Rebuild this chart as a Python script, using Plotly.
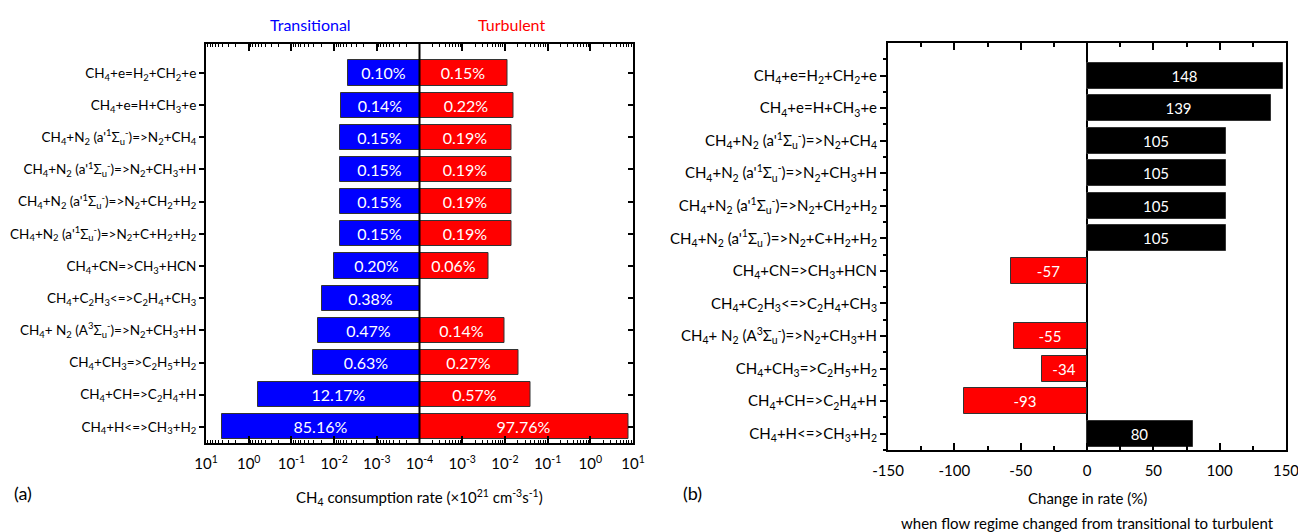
import plotly.graph_objects as go

W, H = 1298, 532
FONT = "Lato"

reactions = [
    "CH<sub>4</sub>+e=H<sub>2</sub>+CH<sub>2</sub>+e",
    "CH<sub>4</sub>+e=H+CH<sub>3</sub>+e",
    "CH<sub>4</sub>+N<sub>2</sub> (a'<sup>1</sup>Σ<sub>u</sub><sup>-</sup>)=&gt;N<sub>2</sub>+CH<sub>4</sub>",
    "CH<sub>4</sub>+N<sub>2</sub> (a'<sup>1</sup>Σ<sub>u</sub><sup>-</sup>)=&gt;N<sub>2</sub>+CH<sub>3</sub>+H",
    "CH<sub>4</sub>+N<sub>2</sub> (a'<sup>1</sup>Σ<sub>u</sub><sup>-</sup>)=&gt;N<sub>2</sub>+CH<sub>2</sub>+H<sub>2</sub>",
    "CH<sub>4</sub>+N<sub>2</sub> (a'<sup>1</sup>Σ<sub>u</sub><sup>-</sup>)=&gt;N<sub>2</sub>+C+H<sub>2</sub>+H<sub>2</sub>",
    "CH<sub>4</sub>+CN=&gt;CH<sub>3</sub>+HCN",
    "CH<sub>4</sub>+C<sub>2</sub>H<sub>3</sub>&lt;=&gt;C<sub>2</sub>H<sub>4</sub>+CH<sub>3</sub>",
    "CH<sub>4</sub>+ N<sub>2</sub> (A<sup>3</sup>Σ<sub>u</sub><sup>-</sup>)=&gt;N<sub>2</sub>+CH<sub>3</sub>+H",
    "CH<sub>4</sub>+CH<sub>3</sub>=&gt;C<sub>2</sub>H<sub>5</sub>+H<sub>2</sub>",
    "CH<sub>4</sub>+CH=&gt;C<sub>2</sub>H<sub>4</sub>+H",
    "CH<sub>4</sub>+H&lt;=&gt;CH<sub>3</sub>+H<sub>2</sub>",
]

# CH4 consumption rate (x10^21 cm^-3 s^-1)
transitional = [0.00472, 0.00689, 0.00728, 0.00728, 0.00728, 0.00728,
                0.0100, 0.0192, 0.0238, 0.0312, 0.605, 4.29]
transitional_pct = ["0.10%", "0.14%", "0.15%", "0.15%", "0.15%", "0.15%",
                    "0.20%", "0.38%", "0.47%", "0.63%", "12.17%", "85.16%"]
turbulent = [0.0112, 0.0163, 0.01466, 0.01466, 0.01466, 0.01466,
             0.00402, None, 0.0100, 0.0203, 0.0408, 7.76]
turbulent_pct = ["0.15%", "0.22%", "0.19%", "0.19%", "0.19%", "0.19%",
                 "0.06%", "", "0.14%", "0.27%", "0.57%", "97.76%"]
change = [148, 139, 105, 105, 105, 105, -57, None, -55, -34, -93, 80]

log_ticks_left = [10, 1, 0.1, 0.01, 0.001, 0.0001]
log_text_left = ["10<sup>1</sup>", "10<sup>0</sup>", "10<sup>-1</sup>", "10<sup>-2</sup>",
                 "10<sup>-3</sup>", "10<sup>-4</sup>"]
log_ticks_right = [0.001, 0.01, 0.1, 1, 10]
log_text_right = ["10<sup>-3</sup>", "10<sup>-2</sup>", "10<sup>-1</sup>", "10<sup>0</sup>",
                  "10<sup>1</sup>"]
lin_ticks = [-150, -100, -50, 0, 50, 100, 150]

BASE = 1e-4
n = len(reactions)
ypos = [n - 1 - i for i in range(n)]
minor_log = [m * 10.0 ** k for k in range(-4, 1) for m in range(2, 10)]
minor_y = [p + 0.5 for p in range(-1, n)]


def px(x):
    return x / W


def py(y):
    return 1 - y / H


fig = go.Figure()

fig.add_trace(go.Bar(
    x=[v - BASE for v in transitional], base=BASE, y=ypos, orientation="h",
    xaxis="x", yaxis="y", width=0.78,
    marker=dict(color="#0000FF", line=dict(color="#333333", width=1)),
    text=transitional_pct, textposition="inside", insidetextanchor="middle",
    textfont=dict(color="white", size=16, family=FONT), constraintext="none",
    showlegend=False, hoverinfo="skip"))

fig.add_trace(go.Bar(
    x=[(v - BASE) if v is not None else None for v in turbulent], base=BASE, y=ypos,
    orientation="h", xaxis="x2", yaxis="y2", width=0.78,
    marker=dict(color="#FF0000", line=dict(color="#333333", width=1)),
    text=turbulent_pct, textposition="inside", insidetextanchor="middle",
    textfont=dict(color="white", size=16, family=FONT), constraintext="none",
    showlegend=False, hoverinfo="skip"))

fig.add_trace(go.Bar(
    x=change, y=ypos, orientation="h", xaxis="x3", yaxis="y3", width=0.8,
    marker=dict(color=["#000000" if (v is not None and v > 0) else "#FF0000" for v in change],
                line=dict(color="#333333", width=1)),
    text=[str(v) if v is not None else "" for v in change],
    textposition="inside", insidetextanchor="middle",
    textfont=dict(color="white", size=15, family=FONT), constraintext="none",
    showlegend=False, hoverinfo="skip"))

common_x = dict(showline=True, linewidth=2, linecolor="black", showgrid=False,
                zeroline=False, ticks="inside", ticklen=7, tickwidth=2, tickcolor="black",
                mirror="allticks", tickfont=dict(size=15, family=FONT, color="black"),
                ticklabelstandoff=6, automargin=False, ticklabeloverflow="allow")

y_left_dom = [py(443), py(44)]
y_right_dom = [py(450), py(43)]

fig.update_layout(
    width=W, height=H, margin=dict(l=0, r=0, t=0, b=0, pad=0, autoexpand=False),
    plot_bgcolor="white", paper_bgcolor="white",
    font=dict(family=FONT, color="black"),
    bargap=0,
    xaxis=dict(domain=[px(206), px(419.5)], type="log", range=[1, -4], anchor="y",
               tickvals=log_ticks_left, ticktext=log_text_left,
               minor=dict(tickvals=minor_log, ticks="inside", ticklen=3, tickwidth=1,
                          tickcolor="black"),
               **common_x),
    xaxis2=dict(domain=[px(419.5), px(633)], type="log", range=[-4, 1], anchor="y2",
                tickvals=log_ticks_right, ticktext=log_text_right,
                minor=dict(tickvals=minor_log, ticks="inside", ticklen=3, tickwidth=1,
                           tickcolor="black"),
                **common_x),
    yaxis=dict(domain=y_left_dom, anchor="x", range=[-0.5, 11.9],
               tickvals=ypos, ticktext=reactions, ticks="outside", ticklen=5, tickwidth=2,
               tickcolor="black", showline=True, linewidth=2, linecolor="black",
               showgrid=False, zeroline=False, automargin=False,
               tickfont=dict(size=13.5, family=FONT, color="black")),
    yaxis2=dict(domain=y_left_dom, anchor="x2", side="right", range=[-0.5, 11.9],
                tickvals=ypos, ticks="inside", ticklen=5, tickwidth=2, tickcolor="black",
                showticklabels=False, showline=True, linewidth=2, linecolor="black",
                showgrid=False, zeroline=False, automargin=False),
    xaxis3=dict(domain=[px(888), px(1286)], range=[-150, 150], anchor="y3",
                tickvals=lin_ticks, ticktext=[str(t) for t in lin_ticks],
                minor=dict(dtick=25, tick0=0, ticks="inside", ticklen=4, tickwidth=1.5,
                           tickcolor="black"),
                showline=True, linewidth=2, linecolor="black", showgrid=False,
                zeroline=True, zerolinecolor="black", zerolinewidth=2,
                ticks="inside", ticklen=7, tickwidth=2, tickcolor="black",
                mirror="allticks", tickfont=dict(size=15, family=FONT, color="black"),
                ticklabelstandoff=6, automargin=False, ticklabeloverflow="allow"),
    yaxis3=dict(domain=y_right_dom, anchor="x3", range=[-0.5, 12.0],
                tickvals=ypos, ticktext=reactions, ticks="outside", ticklen=6, tickwidth=2,
                tickcolor="black",
                minor=dict(tickvals=minor_y, ticks="outside", ticklen=3, tickwidth=1.5,
                           tickcolor="black"),
                showline=True, linewidth=2, linecolor="black", mirror=True,
                showgrid=False, zeroline=False, automargin=False,
                tickfont=dict(size=15, family=FONT, color="black")),
)

# centre line at 10^-4 separating the two regimes
fig.add_shape(type="line", xref="x2 domain", yref="y2 domain", x0=0, x1=0, y0=0, y1=1,
              line=dict(color="black", width=2))

ann = [
    dict(text="Transitional", x=px(310), y=py(25), font=dict(color="#0000FF", size=16)),
    dict(text="Turbulent", x=px(511), y=py(25), font=dict(color="#FF0000", size=16)),
    dict(text="(a)", x=px(23), y=py(493), font=dict(size=18)),
    dict(text="(b)", x=px(692), y=py(493), font=dict(size=18)),
    dict(text="CH<sub>4</sub> consumption rate (×10<sup>21</sup> cm<sup>-3</sup>s<sup>-1</sup>)",
         x=px(419), y=py(497), font=dict(size=15)),
    dict(text="Change in rate (%)", x=px(1087), y=py(498), font=dict(size=15)),
    dict(text="when flow regime changed from transitional to turbulent", x=px(1087),
         y=py(523), font=dict(size=15)),
]
for a in ann:
    a["font"].setdefault("color", "black")
    a["font"]["family"] = FONT
    fig.add_annotation(xref="paper", yref="paper", showarrow=False,
                       xanchor="center", yanchor="middle", **a)

fig.write_html("out.html", config={"displayModeBar": False},
               post_script="document.body.style.margin='0';document.body.style.overflow='hidden';")
